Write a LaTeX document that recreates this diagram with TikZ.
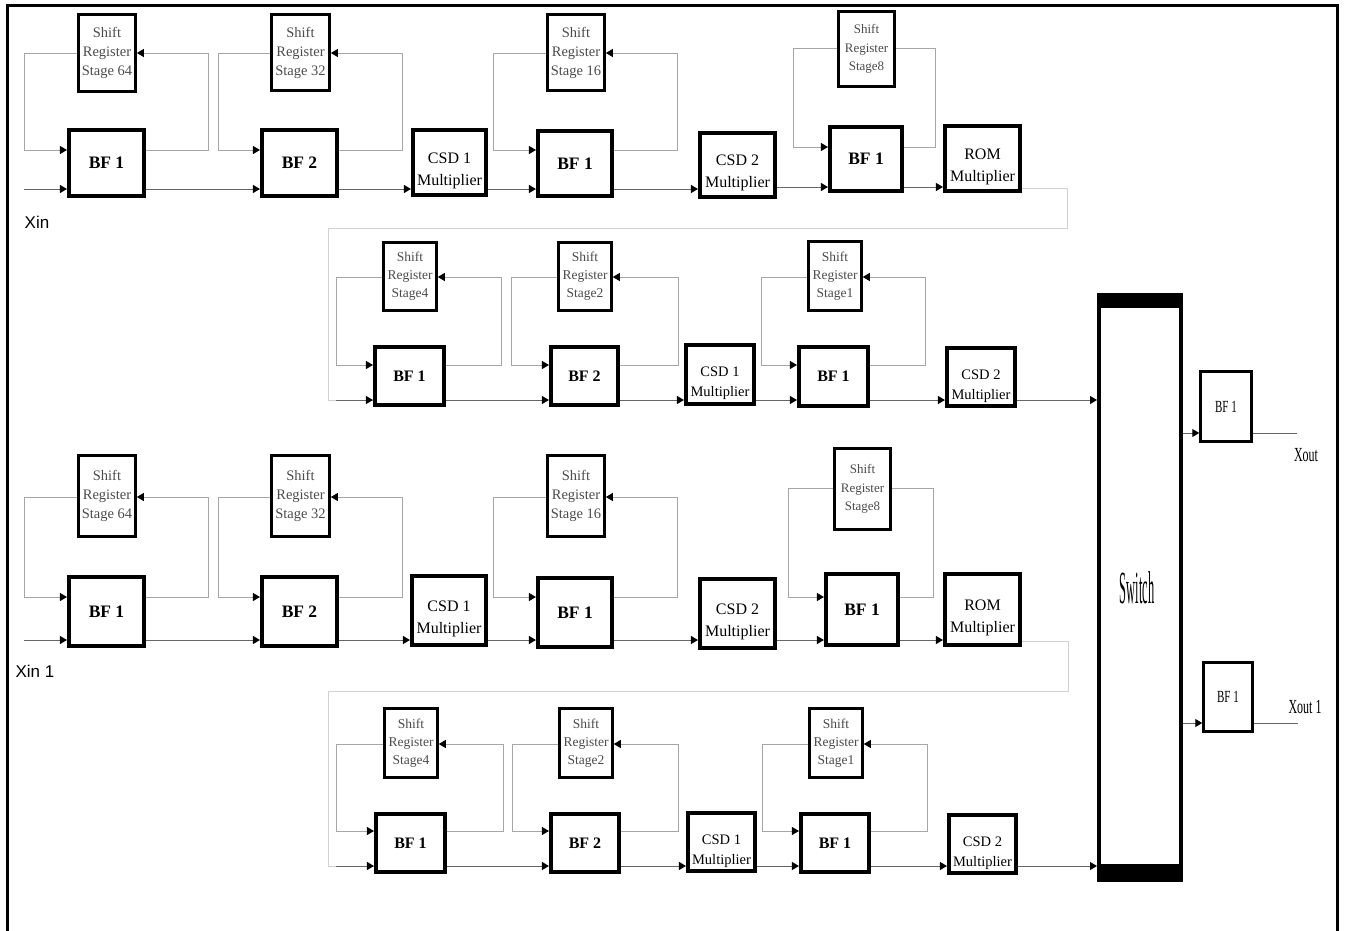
\documentclass[tikz,border=0pt]{standalone}
\usepackage{fontspec}
\setmainfont{Liberation Serif}
\newfontfamily\sansf{Liberation Sans}
\usetikzlibrary{arrows.meta,calc}
\newcommand\mybox[7]{\node[#2, minimum width={#5-#3-3.5}, minimum height={#6-#4-3.5}] (#1) at ({(#3+#5)/2},{(#4+#6)/2}) {#7};}
\newcommand\upA{\rule{0pt}{27pt}}
\newcommand\upB{\rule{0pt}{28pt}}
\tikzset{
  >={Triangle[length=7pt,width=8pt,color=black]},
  blk/.style={draw=black, line width=3.6pt, rectangle, inner sep=0pt, align=center, fill=white},
  srA/.style={blk, line width=3.2pt, text=black!70, font=\fontsize{14.5}{19}\selectfont},
  srS/.style={blk, line width=3.2pt, text=black!70, font=\fontsize{13}{18.5}\selectfont},
  srB/.style={blk, line width=3pt, text=black!70, font=\fontsize{13.5}{18}\selectfont},
  bfA/.style={blk, font=\fontsize{17.5}{20}\selectfont\bfseries},
  bfB/.style={blk, font=\fontsize{16}{19}\selectfont\bfseries},
  bfO/.style={blk, line width=3pt, font=\fontsize{17}{20}\selectfont},
  mulA/.style={blk, font=\fontsize{16}{22}\selectfont},
  mulB/.style={blk, font=\fontsize{14.5}{20}\selectfont},
  swbox/.style={draw=black, line width=4pt, rectangle, inner sep=0pt},
  flow/.style={draw=black!60, line width=1pt},
  fb/.style={draw=black!35, line width=0.9pt},
  link/.style={draw=black!18, line width=1pt},
}
\begin{document}
\begin{tikzpicture}[x=1pt,y=-1pt]
\useasboundingbox (0,0) rectangle (1345,930);
\fill[white] (0,0) rectangle (1345,930);
\draw[line width=3pt] (7,932) -- (7,5) -- (1337,5) -- (1337,932);

% ---------------- Row 1 ----------------
\mybox{aS1}{srA}{77}{13}{137}{93}{Shift\\Register\\Stage 64}
\mybox{aB1}{bfA}{67}{128}{146}{198}{BF 1}
\mybox{aS2}{srA}{270}{13}{331}{92}{Shift\\Register\\Stage 32}
\mybox{aB2}{bfA}{260}{128}{339}{198}{BF 2}
\mybox{aC1}{mulA}{411}{128}{488}{197}{\upA CSD 1\\Multiplier}
\mybox{aS3}{srA}{546}{13}{606}{92}{Shift\\Register\\Stage 16}
\mybox{aB3}{bfA}{536}{129}{614}{198}{BF 1}
\mybox{aC2}{mulA}{698}{131}{777}{199}{\upA CSD 2\\Multiplier}
\mybox{aS4}{srS}{837}{10}{896}{88}{Shift\\Register\\Stage8}
\mybox{aB4}{bfA}{828}{125}{904}{193}{BF 1}
\mybox{aR}{mulA}{943}{124}{1022}{193}{\upA ROM\\Multiplier}
\coordinate (aIn) at (24,189);
\node[font=\sansf\fontsize{17}{20}\selectfont] (xin) at (37,222) {Xin};

\draw[fb,->] (aS1.west |- 0,53) -- (24,53) -- (24,150) -- (aB1.west |- 0,150);
\draw[fb,->] (aB1.east |- 0,150) -- (208,150) -- (208,53) -- (aS1.east |- 0,53);
\draw[fb,->] (aS2.west |- 0,53) -- (218,53) -- (218,150) -- (aB2.west |- 0,150);
\draw[fb,->] (aB2.east |- 0,150) -- (402,150) -- (402,53) -- (aS2.east |- 0,53);
\draw[fb,->] (aS3.west |- 0,53) -- (493,53) -- (493,150) -- (aB3.west |- 0,150);
\draw[fb,->] (aB3.east |- 0,150) -- (677,150) -- (677,53) -- (aS3.east |- 0,53);
\draw[fb,->] (aS4.west |- 0,48) -- (793,48) -- (793,147) -- (aB4.west |- 0,147);
\draw[fb] (aB4.east |- 0,147) -- (935,147) -- (935,48) -- (aS4.east |- 0,48);

\draw[flow,->] (aIn) -- (aB1.west |- aIn);
\draw[flow,->] (aB1.east |- 0,189) -- (aB2.west |- 0,189);
\draw[flow,->] (aB2.east |- 0,189) -- (aC1.west |- 0,189);
\draw[flow,->] (aC1.east |- 0,189) -- (aB3.west |- 0,189);
\draw[flow,->] (aB3.east |- 0,189) -- (aC2.west |- 0,189);
\draw[flow,->] (aC2.east |- 0,187) -- (aB4.west |- 0,187);
\draw[flow,->] (aB4.east |- 0,187) -- (aR.west |- 0,187);

% ---------------- Row 2 ----------------
\mybox{bS1}{srB}{382}{241}{438}{312}{Shift\\Register\\Stage4}
\mybox{bB1}{bfB}{373}{345}{446}{407}{BF 1}
\mybox{bS2}{srB}{557}{241}{613}{312}{Shift\\Register\\Stage2}
\mybox{bB2}{bfB}{549}{345}{620}{407}{BF 2}
\mybox{bC1}{mulB}{684}{343}{756}{406}{\upB CSD 1\\Multiplier}
\mybox{bS3}{srB}{807}{240}{863}{312}{Shift\\Register\\Stage1}
\mybox{bB3}{bfB}{797}{345}{870}{408}{BF 1}
\mybox{bC2}{mulB}{945}{346}{1017}{408}{\upB CSD 2\\Multiplier}

\draw[link] (aR.east |- 0,188) -- (1067,188) -- (1067,228) -- (328,228) -- (328,400) -- (bB1.west |- 0,400);
\draw[flow,->] (336,400) -- (bB1.west |- 0,400);

\draw[fb,->] (bS1.west |- 0,277) -- (336,277) -- (336,365) -- (bB1.west |- 0,365);
\draw[fb,->] (bB1.east |- 0,365) -- (501,365) -- (501,277) -- (bS1.east |- 0,277);
\draw[fb,->] (bS2.west |- 0,277) -- (511,277) -- (511,365) -- (bB2.west |- 0,365);
\draw[fb,->] (bB2.east |- 0,365) -- (678,365) -- (678,277) -- (bS2.east |- 0,277);
\draw[fb,->] (bS3.west |- 0,277) -- (761,277) -- (761,365) -- (bB3.west |- 0,365);
\draw[fb,->] (bB3.east |- 0,365) -- (925,365) -- (925,277) -- (bS3.east |- 0,277);

\draw[flow,->] (bB1.east |- 0,400) -- (bB2.west |- 0,400);
\draw[flow,->] (bB2.east |- 0,400) -- (bC1.west |- 0,400);
\draw[flow,->] (bC1.east |- 0,400) -- (bB3.west |- 0,400);
\draw[flow,->] (bB3.east |- 0,400) -- (bC2.west |- 0,400);

% ---------------- Row 3 ----------------
\mybox{cS1}{srA}{77}{454}{137}{538}{Shift\\Register\\Stage 64}
\mybox{cB1}{bfA}{67}{575}{146}{648}{BF 1}
\mybox{cS2}{srA}{270}{454}{331}{538}{Shift\\Register\\Stage 32}
\mybox{cB2}{bfA}{260}{575}{339}{648}{BF 2}
\mybox{cC1}{mulA}{410}{574}{488}{647}{\upA CSD 1\\Multiplier}
\mybox{cS3}{srA}{546}{454}{606}{538}{Shift\\Register\\Stage 16}
\mybox{cB3}{bfA}{536}{576}{614}{649}{BF 1}
\mybox{cC2}{mulA}{698}{577}{777}{650}{\upA CSD 2\\Multiplier}
\mybox{cS4}{srS}{833}{447}{892}{531}{Shift\\Register\\Stage8}
\mybox{cB4}{bfA}{824}{572}{900}{647}{BF 1}
\mybox{cR}{mulA}{943}{572}{1022}{647}{\upA ROM\\Multiplier}
\coordinate (cIn) at (24,640);
\node[font=\sansf\fontsize{17}{20}\selectfont] (xin1) at (35,671) {Xin 1};

\draw[fb,->] (cS1.west |- 0,497) -- (24,497) -- (24,597) -- (cB1.west |- 0,597);
\draw[fb,->] (cB1.east |- 0,597) -- (208,597) -- (208,497) -- (cS1.east |- 0,497);
\draw[fb,->] (cS2.west |- 0,497) -- (218,497) -- (218,597) -- (cB2.west |- 0,597);
\draw[fb,->] (cB2.east |- 0,597) -- (402,597) -- (402,497) -- (cS2.east |- 0,497);
\draw[fb,->] (cS3.west |- 0,497) -- (493,497) -- (493,597) -- (cB3.west |- 0,597);
\draw[fb,->] (cB3.east |- 0,597) -- (677,597) -- (677,497) -- (cS3.east |- 0,497);
\draw[fb,->] (cS4.west |- 0,488) -- (788,488) -- (788,597) -- (cB4.west |- 0,597);
\draw[fb] (cB4.east |- 0,597) -- (933,597) -- (933,488) -- (cS4.east |- 0,488);

\draw[flow,->] (cIn) -- (cB1.west |- cIn);
\draw[flow,->] (cB1.east |- 0,640) -- (cB2.west |- 0,640);
\draw[flow,->] (cB2.east |- 0,640) -- (cC1.west |- 0,640);
\draw[flow,->] (cC1.east |- 0,640) -- (cB3.west |- 0,640);
\draw[flow,->] (cB3.east |- 0,640) -- (cC2.west |- 0,640);
\draw[flow,->] (cC2.east |- 0,640) -- (cB4.west |- 0,640);
\draw[flow,->] (cB4.east |- 0,640) -- (cR.west |- 0,640);

% ---------------- Row 4 ----------------
\mybox{dS1}{srB}{383}{707}{439}{779}{Shift\\Register\\Stage4}
\mybox{dB1}{bfB}{374}{812}{447}{874}{BF 1}
\mybox{dS2}{srB}{558}{707}{614}{779}{Shift\\Register\\Stage2}
\mybox{dB2}{bfB}{549}{812}{621}{874}{BF 2}
\mybox{dC1}{mulB}{686}{811}{757}{873}{\upB CSD 1\\Multiplier}
\mybox{dS3}{srB}{808}{707}{864}{779}{Shift\\Register\\Stage1}
\mybox{dB3}{bfB}{799}{812}{871}{874}{BF 1}
\mybox{dC2}{mulB}{947}{813}{1018}{875}{\upB CSD 2\\Multiplier}

\draw[link] (cR.east |- 0,641) -- (1068,641) -- (1068,691) -- (328,691) -- (328,866) -- (dB1.west |- 0,866);
\draw[flow,->] (336,866) -- (dB1.west |- 0,866);

\draw[fb,->] (dS1.west |- 0,744) -- (336,744) -- (336,831) -- (dB1.west |- 0,831);
\draw[fb,->] (dB1.east |- 0,831) -- (503,831) -- (503,744) -- (dS1.east |- 0,744);
\draw[fb,->] (dS2.west |- 0,744) -- (512,744) -- (512,831) -- (dB2.west |- 0,831);
\draw[fb,->] (dB2.east |- 0,831) -- (678,831) -- (678,744) -- (dS2.east |- 0,744);
\draw[fb,->] (dS3.west |- 0,744) -- (762,744) -- (762,831) -- (dB3.west |- 0,831);
\draw[fb,->] (dB3.east |- 0,831) -- (927,831) -- (927,744) -- (dS3.east |- 0,744);

\draw[flow,->] (dB1.east |- 0,866) -- (dB2.west |- 0,866);
\draw[flow,->] (dB2.east |- 0,866) -- (dC1.west |- 0,866);
\draw[flow,->] (dC1.east |- 0,866) -- (dB3.west |- 0,866);
\draw[flow,->] (dB3.east |- 0,866) -- (dC2.west |- 0,866);

% ---------------- Switch and outputs ----------------
\node[swbox, minimum width=82, minimum height=585] (sw) at (1140,587.5) {};
\fill[black] (sw.north west) rectangle ($(sw.north east)+(0,15)$);
\fill[black] ($(sw.south west)+(0,-18)$) rectangle (sw.south east);
\node (swl) at (1137,588) {\scalebox{0.27}[1]{\fontsize{46}{46}\selectfont Switch}};

\draw[flow,->] (bC2.east |- 0,400) -- (sw.west |- 0,400);
\draw[flow,->] (dC2.east |- 0,866) -- (sw.west |- 0,866);

\mybox{eB1}{bfO}{1199}{370}{1253}{443}{\scalebox{0.65}[1]{BF 1}}
\mybox{eB2}{bfO}{1202}{661}{1254}{733}{\scalebox{0.65}[1]{BF 1}}
\coordinate (xo1) at (1297,433);
\coordinate (xo2) at (1298,723);
\draw[flow,->] (sw.east |- 0,433) -- (eB1.west |- 0,433);
\draw[flow] (eB1.east |- xo1) -- (xo1);
\draw[flow,->] (sw.east |- 0,723) -- (eB2.west |- 0,723);
\draw[flow] (eB2.east |- xo2) -- (xo2);
\node (xout) at (1306,455) {\scalebox{0.6}[1]{\fontsize{20}{20}\selectfont Xout}};
\node (xout1) at (1305,707) {\scalebox{0.6}[1]{\fontsize{20}{20}\selectfont Xout 1}};
\end{tikzpicture}
\end{document}
